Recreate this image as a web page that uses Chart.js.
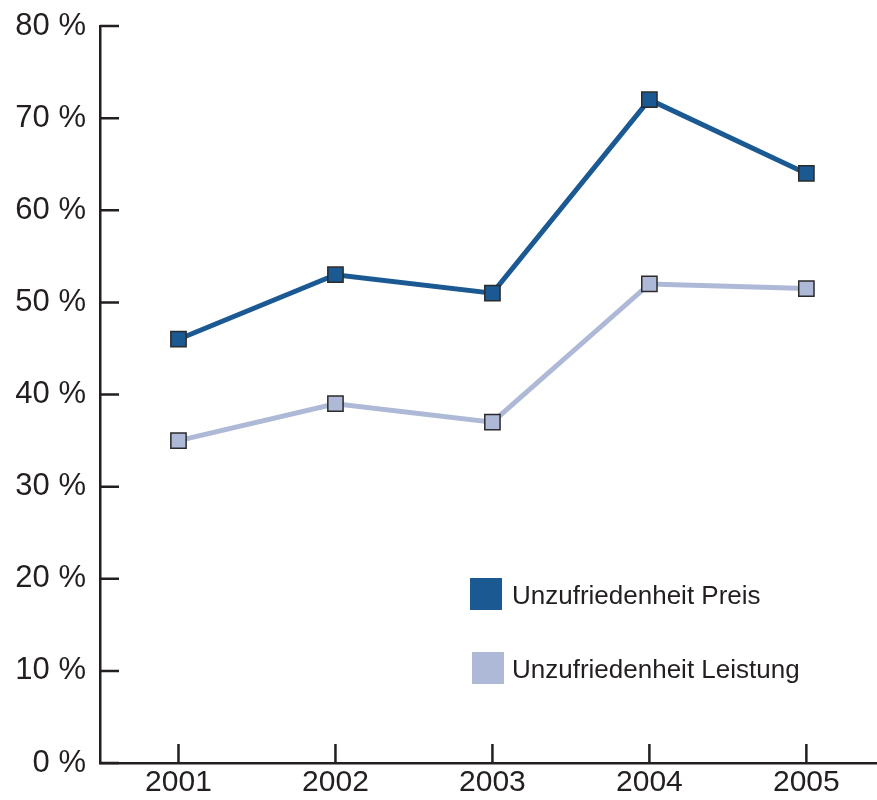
<!DOCTYPE html>
<html>
<head>
<meta charset="utf-8">
<script src="https://cdn.jsdelivr.net/npm/chart.js@4.4.0/dist/chart.umd.min.js"></script>
<style>
  html, body { margin: 0; padding: 0; background: #fff; overflow: hidden; }
  canvas { display: block; }
</style>
</head>
<body>
<canvas id="line-chart" width="877" height="800"></canvas>
<script>
// data
var years = [2001, 2002, 2003, 2004, 2005];
var preis = [46, 53, 51, 72, 64];
var leistung = [35, 39, 37, 52, 51.5];
var yTicks = [0, 10, 20, 30, 40, 50, 60, 70, 80];
var seriesNames = ["Unzufriedenheit Preis", "Unzufriedenheit Leistung"];

var ink = "#231f20";
var darkBlue = "#1b5993";
var lightBlue = "#adb9d6";

var toPoints = (vals) => vals.map((v, i) => ({x: years[i], y: v}));

// short tick marks pointing into the plot area
var innerTicks = {
  id: "innerTicks",
  afterDraw(chart) {
    var ctx = chart.ctx, area = chart.chartArea;
    var xs = chart.scales.x, ys = chart.scales.y;
    ctx.save();
    ctx.strokeStyle = ink;
    ctx.lineWidth = 2.5;
    ctx.beginPath();
    yTicks.forEach(v => {
      var y = ys.getPixelForValue(v);
      ctx.moveTo(area.left, y);
      ctx.lineTo(area.left + 19, y);
    });
    years.forEach(v => {
      var x = xs.getPixelForValue(v);
      ctx.moveTo(x, area.bottom);
      ctx.lineTo(x, area.bottom - 19);
    });
    ctx.stroke();
    ctx.restore();
  }
};

// legend inside the plot, bottom right
var boxLegend = {
  id: "boxLegend",
  afterDraw(chart) {
    var ctx = chart.ctx;
    var rows = [{x: 470, y: 578}, {x: 472, y: 652}];
    ctx.save();
    ctx.font = "26px 'Liberation Sans', Arial, sans-serif";
    ctx.textBaseline = "middle";
    chart.data.datasets.forEach((ds, i) => {
      var r = rows[i];
      ctx.fillStyle = ds.backgroundColor;
      ctx.fillRect(r.x, r.y, 32, 32);
      ctx.fillStyle = ink;
      ctx.fillText(ds.label, 512, r.y + 19);
    });
    ctx.restore();
  }
};

var data = {
  datasets: [
    {
      label: seriesNames[0],
      data: toPoints(preis),
      borderColor: darkBlue,
      backgroundColor: darkBlue,
      borderWidth: 5,
      pointStyle: "rect",
      pointRadius: 10.8,
      pointBackgroundColor: darkBlue,
      pointBorderColor: "#2b2b2b",
      pointBorderWidth: 1.5,
      tension: 0,
      clip: false
    }, {
      label: seriesNames[1],
      data: toPoints(leistung),
      borderColor: lightBlue,
      backgroundColor: lightBlue,
      borderWidth: 5,
      pointStyle: "rect",
      pointRadius: 10.8,
      pointBackgroundColor: lightBlue,
      pointBorderColor: "#2b2b2b",
      pointBorderWidth: 1.5,
      tension: 0,
      clip: false
    }
  ]
};

var config = {
  type: "line",
  data,
  plugins: [innerTicks, boxLegend],
  options: {
    responsive: false,
    animation: false,
    layout: { autoPadding: false, padding: { top: 26, right: 0, left: 0, bottom: 0 } },
    plugins: {
      legend: { display: false },
      tooltip: { enabled: false }
    },
    scales: {
      x: {
        type: "linear",
        min: 2000.5,
        max: 2005.45,
        bounds: "data",
        afterBuildTicks: (scale) => { scale.ticks = years.map(v => ({value: v})); },
        afterFit: (scale) => {
          scale.height = 37;
          scale.paddingLeft = 0;
          scale.paddingRight = 0;
        },
        grid: { drawOnChartArea: false, drawTicks: false },
        border: { color: ink, width: 2.5 },
        ticks: {
          padding: 2,
          color: ink,
          font: { family: "'Liberation Sans', Arial, sans-serif", size: 30 },
          callback: (v) => String(v)
        }
      },
      y: {
        min: 0,
        max: 80,
        afterBuildTicks: (scale) => { scale.ticks = yTicks.map(v => ({value: v})); },
        afterFit: (scale) => {
          scale.width = 100;
          scale.paddingTop = 0;
          scale.paddingBottom = 0;
        },
        grid: { drawOnChartArea: false, drawTicks: false },
        border: { color: ink, width: 2.5 },
        ticks: {
          padding: 14,
          color: ink,
          font: { family: "'Liberation Sans', Arial, sans-serif", size: 31 },
          callback: (v) => v + " %"
        }
      }
    }
  }
};

var chart = new Chart(document.getElementById("line-chart").getContext("2d"), config);
</script>
</body>
</html>
